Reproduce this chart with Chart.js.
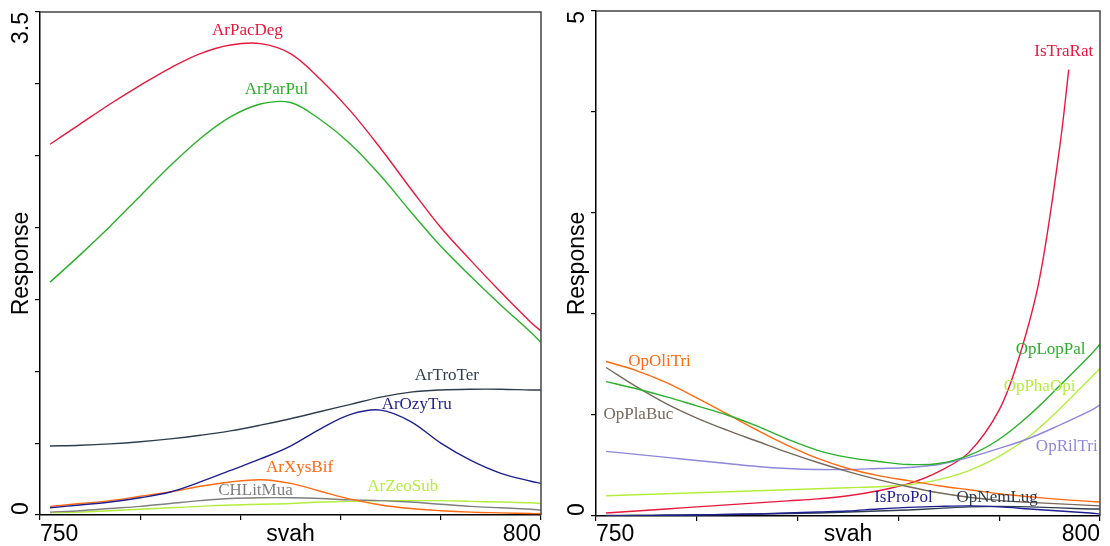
<!DOCTYPE html>
<html>
<head>
<meta charset="utf-8">
<script src="https://cdn.jsdelivr.net/npm/chart.js@4.4.1/dist/chart.umd.min.js"></script>
<style>
  html, body { margin: 0; padding: 0; background: #fff; }
  .panel { position: absolute; top: 0; width: 555px; height: 546px; }
  #leftBox { left: 0; }
  #rightBox { left: 555px; }
</style>
</head>
<body>
<div class="panel" id="leftBox"><canvas id="left" width="555" height="546"></canvas></div>
<div class="panel" id="rightBox"><canvas id="right" width="555" height="546"></canvas></div>
<script>
// shared x positions (svah)
const svah = [751, 754, 757, 760, 763, 766, 769, 772, 775, 778, 781, 784, 787, 790, 793, 796, 799, 800];
const xTickLabels = ['750', '800'];

// left panel responses
const arPacDeg = [2.58, 2.72, 2.86, 2.99, 3.11, 3.21, 3.27, 3.28, 3.21, 3.03, 2.81, 2.55, 2.27, 2.00, 1.77, 1.55, 1.34, 1.28];
const arParPul = [1.62, 1.81, 2.01, 2.22, 2.43, 2.62, 2.77, 2.86, 2.87, 2.75, 2.58, 2.36, 2.11, 1.87, 1.66, 1.46, 1.27, 1.20];
const arTroTer = [0.48, 0.485, 0.495, 0.51, 0.53, 0.555, 0.585, 0.625, 0.67, 0.72, 0.77, 0.82, 0.855, 0.87, 0.875, 0.875, 0.87, 0.87];
const arOzyTru = [0.05, 0.07, 0.09, 0.12, 0.16, 0.23, 0.31, 0.39, 0.48, 0.60, 0.70, 0.73, 0.65, 0.50, 0.38, 0.29, 0.235, 0.22];
const arXysBif = [0.06, 0.08, 0.10, 0.13, 0.16, 0.20, 0.23, 0.245, 0.22, 0.165, 0.11, 0.07, 0.045, 0.03, 0.02, 0.015, 0.01, 0.01];
const chLitMua = [0.02, 0.03, 0.045, 0.06, 0.08, 0.10, 0.115, 0.12, 0.12, 0.115, 0.105, 0.10, 0.09, 0.075, 0.06, 0.05, 0.04, 0.035];
const arZeoSub = [0.015, 0.02, 0.03, 0.04, 0.05, 0.06, 0.07, 0.075, 0.08, 0.09, 0.095, 0.10, 0.10, 0.10, 0.095, 0.09, 0.085, 0.08];

// right panel responses
const opLopPal = [1.33, 1.26, 1.18, 1.09, 1.00, 0.89, 0.76, 0.65, 0.58, 0.54, 0.51, 0.52, 0.60, 0.76, 1.00, 1.29, 1.59, 1.70];
const opOliTri = [1.53, 1.44, 1.32, 1.17, 1.01, 0.85, 0.70, 0.57, 0.47, 0.40, 0.35, 0.30, 0.26, 0.22, 0.19, 0.165, 0.145, 0.14];
const opPlaBuc = [1.47, 1.28, 1.11, 0.97, 0.85, 0.74, 0.63, 0.53, 0.44, 0.36, 0.29, 0.23, 0.185, 0.155, 0.135, 0.12, 0.105, 0.10];
const opRilTri = [0.64, 0.61, 0.58, 0.55, 0.52, 0.49, 0.47, 0.46, 0.46, 0.47, 0.48, 0.51, 0.58, 0.67, 0.77, 0.90, 1.04, 1.10];
const opPhaOpi = [0.20, 0.21, 0.22, 0.23, 0.24, 0.25, 0.26, 0.27, 0.28, 0.29, 0.31, 0.36, 0.45, 0.59, 0.79, 1.06, 1.36, 1.46];
const isProPol = [0, 0, 0.005, 0.01, 0.015, 0.02, 0.03, 0.04, 0.05, 0.07, 0.085, 0.095, 0.10, 0.09, 0.07, 0.05, 0.03, 0.02];
const opNemLug = [0.005, 0.007, 0.01, 0.012, 0.015, 0.02, 0.025, 0.03, 0.04, 0.05, 0.06, 0.075, 0.09, 0.095, 0.09, 0.08, 0.07, 0.07];
// IsTraRat stops before 800
const isTraRatX = [751, 754, 757, 760, 763, 766, 769, 772, 775, 778, 781, 784, 787, 790, 792, 794, 796, 796.9];
const isTraRat = [0.03, 0.05, 0.07, 0.09, 0.11, 0.13, 0.15, 0.17, 0.20, 0.25, 0.32, 0.44, 0.63, 1.05, 1.58, 2.35, 3.65, 4.42];

// curve label anchors (data units)
const leftNames = ['ArPacDeg', 'ArParPul', 'ArTroTer', 'ArOzyTru', 'ArXysBif', 'CHLitMua', 'ArZeoSub'];
const leftLabelX = [770.7, 773.6, 790.6, 787.6, 775.9, 771.5, 786.2];
const leftLabelY = [3.37, 2.96, 0.97, 0.77, 0.33, 0.17, 0.20];
const rightNames = ['IsTraRat', 'OpOliTri', 'OpPlaBuc', 'OpLopPal', 'OpPhaOpi', 'OpRilTri', 'IsProPol', 'OpNemLug'];
const rightLabelX = [796.4, 756.3, 754.2, 795.1, 794.0, 796.7, 780.5, 789.8];
const rightLabelY = [4.60, 1.53, 1.00, 1.65, 1.28, 0.69, 0.18, 0.18];

const RED = '#e6193c', GREEN = '#2ab02a', SLATE = '#2f3e4e', NAVY = '#1f1f8f',
      ORANGE = '#ff6a10', GRAY = '#7f7f7f', BROWNGRAY = '#76695e', LIME = '#b4ee3c', PURPLE = '#8e87dc';

const colorOf = {
  ArPacDeg: RED, ArParPul: GREEN, ArTroTer: SLATE, ArOzyTru: NAVY, ArXysBif: ORANGE,
  CHLitMua: GRAY, ArZeoSub: LIME,
  IsTraRat: RED, OpOliTri: ORANGE, OpPlaBuc: BROWNGRAY, OpLopPal: GREEN, OpPhaOpi: LIME,
  OpRilTri: PURPLE, IsProPol: NAVY, OpNemLug: SLATE
};

function series(name, xs, ys) {
  return {
    label: name,
    data: xs.map((x, i) => ({ x: x, y: ys[i] })),
    borderColor: colorOf[name],
    borderWidth: 1.4,
    pointRadius: 0,
    fill: false,
    tension: 0.35
  };
}

// draws box, R-style axis text and curve labels
const rText = {
  id: 'rText',
  afterDraw(chart, args, opts) {
    const ctx = chart.ctx;
    const a = chart.chartArea;
    const x = chart.scales.x, y = chart.scales.y;
    ctx.save();
    ctx.strokeStyle = '#444';
    ctx.lineWidth = 1.5;
    ctx.beginPath();
    ctx.moveTo(a.left, a.top);
    ctx.lineTo(a.right, a.top);
    ctx.lineTo(a.right, a.bottom);
    ctx.stroke();

    ctx.fillStyle = '#000';
    ctx.font = '23px "Liberation Sans", Arial, sans-serif';
    ctx.textBaseline = 'alphabetic';
    ctx.textAlign = 'left';
    ctx.fillText(xTickLabels[0], a.left, 541);
    ctx.textAlign = 'right';
    ctx.fillText(xTickLabels[1], a.right, 541);
    ctx.textAlign = 'center';
    ctx.fillText('svah', (a.left + a.right) / 2, 541);

    const yx = a.left - 12;
    ctx.save();
    ctx.translate(yx, y.getPixelForValue(0));
    ctx.rotate(-Math.PI / 2);
    ctx.textAlign = 'left';
    ctx.fillText('0', 0, 0);
    ctx.restore();
    ctx.save();
    ctx.translate(yx, y.getPixelForValue(opts.yMax));
    ctx.rotate(-Math.PI / 2);
    ctx.textAlign = 'right';
    ctx.fillText(String(opts.yMax), 0, 0);
    ctx.restore();
    ctx.save();
    ctx.translate(yx, (a.top + a.bottom) / 2);
    ctx.rotate(-Math.PI / 2);
    ctx.textAlign = 'center';
    ctx.fillText('Response', 0, 0);
    ctx.restore();

    ctx.font = '17px "Liberation Serif", "Times New Roman", serif';
    ctx.textAlign = 'center';
    ctx.textBaseline = 'middle';
    opts.names.forEach((n, i) => {
      ctx.fillStyle = colorOf[n];
      ctx.fillText(n, x.getPixelForValue(opts.lx[i]), y.getPixelForValue(opts.ly[i]));
    });
    ctx.restore();
  }
};

function makeChart(id, datasets, yMax, yStep, pad, names, lx, ly) {
  return new Chart(document.getElementById(id), {
    type: 'line',
    data: { datasets: datasets },
    options: {
      responsive: false,
      animation: false,
      devicePixelRatio: 1,
      layout: { padding: pad },
      plugins: {
        legend: { display: false },
        tooltip: { enabled: false },
        rText: { yMax: yMax, names: names, lx: lx, ly: ly }
      },
      scales: {
        x: {
          type: 'linear', min: 750, max: 800,
          ticks: { display: false, stepSize: 10 },
          grid: { drawOnChartArea: false, drawTicks: true, tickLength: 5, color: '#000', lineWidth: 1.2 },
          border: { color: '#000', width: 1.5 }
        },
        y: {
          min: 0, max: yMax,
          ticks: { display: false, stepSize: yStep },
          grid: { drawOnChartArea: false, drawTicks: true, tickLength: 5, color: '#000', lineWidth: 1.2 },
          border: { color: '#000', width: 1.5 }
        }
      }
    },
    plugins: [rText]
  });
}

makeChart('left', [
  series('ArPacDeg', svah, arPacDeg),
  series('ArParPul', svah, arParPul),
  series('ArTroTer', svah, arTroTer),
  series('ArOzyTru', svah, arOzyTru),
  series('ArXysBif', svah, arXysBif),
  series('CHLitMua', svah, chLitMua),
  series('ArZeoSub', svah, arZeoSub)
], 3.5, 0.5, { left: 35, top: 12, right: 14, bottom: 26 }, leftNames, leftLabelX, leftLabelY);

makeChart('right', [
  series('OpLopPal', svah, opLopPal),
  series('OpOliTri', svah, opOliTri),
  series('OpPlaBuc', svah, opPlaBuc),
  series('OpRilTri', svah, opRilTri),
  series('OpPhaOpi', svah, opPhaOpi),
  series('IsProPol', svah, isProPol),
  series('OpNemLug', svah, opNemLug),
  series('IsTraRat', isTraRatX, isTraRat)
], 5, 1, { left: 36, top: 11, right: 10, bottom: 25 }, rightNames, rightLabelX, rightLabelY);
</script>
</body>
</html>
